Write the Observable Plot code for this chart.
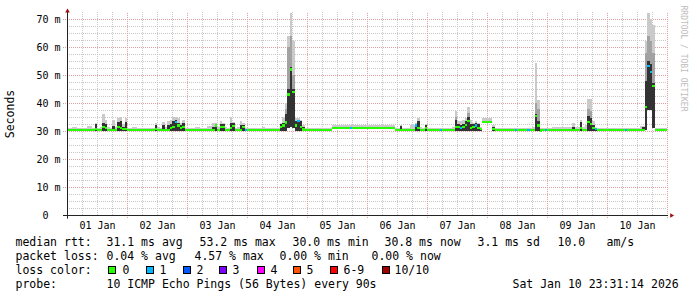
<!DOCTYPE html>
<html><head><meta charset="utf-8">
<script src="https://cdn.jsdelivr.net/npm/d3@7"></script>
<script src="https://cdn.jsdelivr.net/npm/@observablehq/plot@0.6"></script>
<style>
html,body{margin:0;padding:0;background:#fff;}
#wrap{position:relative;width:697px;height:297px;overflow:hidden;background:#fff;font-family:"DejaVu Sans Mono",monospace;}
#chart{position:absolute;left:0;top:0;}
.t{position:absolute;font-size:11.5px;line-height:14px;white-space:pre;color:#000;}
.box{position:absolute;width:8px;height:8px;box-sizing:border-box;border:1px solid #000;}
</style></head><body>
<div id="wrap"><div id="chart"></div></div>
<script>
// ---- data: hourly values (hour 0 = 01 Jan 00:00), milliseconds ----
const med = [
30.4,30.4,30.4,30.4,30.4,30.4,30.4,30.4,30.4,30.4,30.4,30.6,30.4,30.4,31.5,31.0,30.4,30.4,30.4,30.4,31.5,31.0,30.6,30.8,
30.4,30.4,30.4,30.4,30.4,30.4,30.4,30.4,30.4,30.4,30.4,30.8,30.4,30.4,30.4,30.4,30.4,31.0,31.5,33.2,32.0,31.0,31.5,30.4,
30.4,30.4,30.4,30.4,30.4,30.4,30.4,30.4,30.4,30.4,30.4,32.0,30.4,31.5,31.5,30.4,30.4,31.0,31.8,30.4,30.4,30.4,31.5,30.4,
30.4,30.4,30.4,30.4,30.4,30.4,30.4,30.4,30.4,30.4,30.4,30.4,30.4,31.5,32.0,33.0,43.0,52.0,44.0,32.0,33.5,31.5,30.5,30.4,
30.4,30.4,30.4,30.4,30.4,30.4,30.4,30.4,30.4,30.4,31.2,31.2,31.2,31.2,31.2,31.2,31.2,31.2,31.2,31.2,31.2,31.2,31.2,31.2,
31.2,31.2,31.2,31.2,31.2,31.2,31.2,31.2,31.2,31.2,31.2,30.4,30.4,30.4,30.4,30.4,30.4,30.4,30.4,32.0,31.0,30.4,30.4,31.2,
30.4,30.4,30.4,30.4,30.4,30.4,30.4,30.4,30.4,30.4,30.4,31.5,31.3,31.0,31.5,32.2,33.5,31.0,31.5,32.0,31.0,30.6,33.3,33.3,
33.3,33.3,30.6,30.4,30.4,30.4,30.4,30.4,30.4,30.4,30.4,30.4,30.4,30.4,30.4,30.4,30.4,30.4,30.4,35.4,32.0,30.2,30.4,30.3,
30.4,30.4,30.4,30.4,30.4,30.4,30.4,30.4,30.4,30.4,30.4,30.4,30.4,31.2,30.4,30.4,33.2,32.5,31.0,30.6,30.4,30.4,30.4,30.4,
30.4,30.4,30.4,30.4,30.4,30.4,30.4,30.4,30.4,30.4,30.4,30.4,30.4,30.4,30.4,38.7,53.2,51.0,46.0,30.4,30.4,30.4,30.4,30.4
];
const lo = [
30.1,30.1,30.1,30.1,30.1,30.1,30.1,30.1,30.1,30.1,30.1,30.1,30.1,30.1,30.1,30.1,30.1,30.1,30.1,30.1,30.1,30.1,30.1,30.1,
30.1,30.1,30.1,30.1,30.1,30.1,30.1,30.1,30.1,30.1,30.1,30.1,30.1,30.1,30.1,30.1,30.1,30.1,30.1,30.1,30.1,30.1,30.1,30.1,
30.1,30.1,30.1,30.1,30.1,30.1,30.1,30.1,30.1,30.1,30.1,30.1,30.1,30.1,30.1,30.1,30.1,30.1,30.1,30.1,30.1,30.1,30.1,30.1,
30.1,30.1,30.1,30.1,30.1,30.1,30.1,30.1,30.1,30.1,30.1,30.1,30.1,30.1,30.1,30.1,31.0,31.5,31.0,30.1,30.1,30.1,30.1,30.1,
30.1,30.1,30.1,30.1,30.1,30.1,30.1,30.1,30.1,30.1,30.8,30.8,30.8,30.8,30.8,30.8,30.8,30.8,30.8,30.8,30.8,30.8,30.8,30.8,
30.8,30.8,30.8,30.8,30.8,30.8,30.8,30.8,30.8,30.8,30.8,30.1,30.1,30.1,30.1,30.1,30.1,30.1,30.1,30.1,30.1,30.1,30.1,30.1,
30.1,30.1,30.1,30.1,30.1,30.1,30.1,30.1,30.1,30.1,30.1,30.1,30.1,30.1,30.1,30.1,30.1,30.1,30.1,30.1,30.1,30.1,33.0,33.0,
33.0,33.0,30.1,30.1,30.1,30.1,30.1,30.1,30.1,30.1,30.1,30.1,30.1,30.1,30.1,30.1,30.1,30.1,30.1,30.1,30.1,30.1,30.1,30.1,
30.1,30.1,30.1,30.1,30.1,30.1,30.1,30.1,30.1,30.1,30.1,30.1,30.1,30.1,30.1,30.1,30.1,30.1,30.1,30.1,30.1,30.1,30.1,30.1,
30.1,30.1,30.1,30.1,30.1,30.1,30.1,30.1,30.1,30.1,30.1,30.1,30.1,30.1,30.1,30.5,37.5,37.5,31.0,30.1,30.1,30.1,30.1,30.1
];
const dark = [
30.4,30.4,30.4,30.4,30.4,30.4,30.4,30.4,30.4,30.4,30.4,32.5,30.4,30.4,33.0,32.5,30.4,30.4,31.8,30.4,33.3,33.5,31.5,33.3,
30.4,30.4,30.4,30.4,30.4,30.4,30.4,30.4,30.4,30.4,30.4,32.0,30.4,30.4,32.0,30.4,32.0,32.5,33.5,33.8,33.0,32.0,32.8,30.4,
30.4,30.4,30.4,30.4,30.4,30.4,30.4,30.4,30.4,30.4,31.5,32.5,30.4,32.5,32.5,30.4,30.4,33.0,32.7,30.4,30.4,32.0,32.0,30.4,
30.4,30.4,30.4,30.4,30.4,30.4,30.4,30.4,30.4,30.4,30.4,30.4,30.4,32.5,33.0,36.0,45.0,53.0,45.0,33.5,34.0,33.5,31.5,30.4,
30.4,30.4,30.4,30.4,30.4,30.4,30.4,30.4,30.4,30.4,31.2,31.2,31.2,31.2,31.2,31.2,31.2,31.2,31.2,31.2,31.2,31.2,31.2,31.2,
31.2,31.2,31.2,31.2,31.2,31.2,31.2,31.2,31.2,31.2,31.2,30.4,30.4,31.7,30.4,30.4,30.4,30.4,30.4,32.5,33.5,30.4,30.4,32.0,
30.4,30.4,30.4,30.4,30.4,30.4,30.4,30.4,30.4,30.4,30.4,33.8,32.5,32.0,32.5,33.5,35.0,32.5,32.5,33.0,32.5,30.6,33.6,33.6,
33.6,33.6,31.5,30.4,30.4,30.4,30.4,30.4,30.4,30.4,30.4,30.4,30.4,30.4,30.4,30.4,30.4,30.4,30.4,36.0,33.5,30.4,30.4,30.4,
30.4,30.4,30.4,30.4,30.4,30.4,30.4,30.4,30.4,30.4,31.6,30.4,30.4,33.3,30.4,30.4,35.5,34.5,32.0,30.4,30.4,30.4,30.4,30.4,
30.4,30.4,30.4,30.4,30.4,30.4,30.4,30.4,30.4,30.4,30.4,30.4,30.4,30.4,31.5,48.0,55.0,54.0,47.0,30.4,30.4,30.4,30.4,30.4
];
const hi = [
30.9,30.9,31.5,31.5,30.9,30.9,30.9,30.9,31.7,31.7,30.9,33.0,31.2,31.5,36.0,34.0,31.5,30.9,34.0,31.5,34.5,35.0,32.5,34.5,
30.9,30.9,31.5,31.5,30.9,30.9,30.9,30.9,30.9,30.9,30.9,32.8,31.3,30.9,33.3,31.5,33.5,34.0,35.0,35.0,34.5,33.0,34.0,30.9,
30.9,30.9,30.9,31.5,31.5,30.9,30.9,30.9,31.7,31.7,33.0,33.0,31.5,33.5,33.0,31.5,30.9,35.0,33.3,30.9,31.5,33.5,33.0,30.9,
30.9,30.9,31.2,30.9,30.9,30.9,31.3,30.9,30.9,31.2,30.9,30.9,30.9,33.0,35.0,40.0,64.0,72.0,62.0,34.5,34.5,34.0,32.0,30.9,
30.9,30.9,30.9,30.9,30.9,30.9,30.9,30.9,30.9,30.9,32.3,32.3,32.3,32.3,32.3,32.3,32.3,32.3,32.3,32.3,32.3,32.3,32.3,32.3,
32.3,32.3,32.3,32.3,32.3,32.3,32.3,32.3,32.3,32.3,32.3,30.9,30.9,32.0,30.9,30.9,30.9,32.3,32.3,33.0,34.5,31.5,30.9,32.5,
30.9,30.9,30.9,30.9,30.9,30.9,31.2,31.2,31.2,31.2,31.5,37.0,33.5,33.5,34.0,34.5,38.7,34.0,33.0,33.5,33.0,31.5,34.5,34.5,
34.5,34.5,32.0,31.2,31.2,31.2,31.2,31.2,31.2,31.2,31.2,31.2,31.2,31.2,31.2,31.2,31.2,30.9,31.5,54.2,41.0,31.2,30.9,30.9,
30.9,30.9,31.5,31.5,31.5,31.5,31.5,31.5,31.5,31.5,33.0,31.5,31.5,34.0,31.5,32.0,41.5,41.5,33.5,30.9,30.9,30.9,30.9,30.9,
30.9,30.9,30.9,30.9,30.9,30.9,30.9,30.9,30.9,30.9,30.9,30.9,30.9,31.7,31.7,62.0,72.0,70.0,68.0,30.9,30.9,30.9,30.9,30.9
];
// medium-gray smoke band, only where it shows
const grayHour = [87, 88, 89, 90, 155, 160, 187, 188, 208, 209, 231, 232, 233, 234];
const grayTop  = [38, 60, 64, 50, 35, 36.5, 40, 38, 38, 37, 58, 64, 62, 58];
// hours whose median carries packet loss, and the lost pings
const lossHour  = [43, 71, 92, 113, 139, 149, 157, 163, 179, 184, 191, 211, 223, 232, 233];
const lossCount = [1, 1, 1, 1, 1, 1, 1, 1, 1, 1, 1, 1, 1, 1, 1];

const dayLabels = ["01 Jan","02 Jan","03 Jan","04 Jan","05 Jan","06 Jan","07 Jan","08 Jan","09 Jan","10 Jan"];
const yTicks = [0, 10, 20, 30, 40, 50, 60, 70];
const lossLabels = ["0","1","2","3","4","5","6-9","10/10"];
const lossColors = ["#26ff00","#00b8ff","#0059ff","#7e00ff","#ff00ff","#ff5500","#ff0000","#a10000"];
const rttStats  = ["31.1 ms avg","53.2 ms max","30.0 ms min","30.8 ms now","3.1 ms sd","10.0","am/s"];
const lossStats = ["0.04 % avg","4.57 % max","0.00 % min","0.00 % now"];
const probeText = "10 ICMP Echo Pings (56 Bytes) every 90s";
const stampText = "Sat Jan 10 23:31:14 2026";

// ---- build tables ----
const rows = med.map((m, i) => {
  const k = lossHour.indexOf(i);
  return {t: i, t2: i + 1, med: m, lo: lo[i], dark: dark[i], hi: hi[i], loss: k >= 0 ? lossCount[k] : 0};
});
const grayRows = grayHour.map((h, i) => ({t: h, t2: h + 1, lo: lo[h], top: grayTop[i]}));

const noons = dayLabels.map((_, i) => 12 + 24 * i);
const midnights = d3.range(24, 241, 24);
const minorX = d3.range(6, 240, 6).filter(h => h % 24 !== 0);
const minorY = d3.range(2.5, 70, 2.5).filter(v => v % 10 !== 0);

const font = "DejaVu Sans Mono";
const chart = Plot.plot({
  width: 697, height: 232,
  marginLeft: 67, marginRight: 30, marginTop: 12, marginBottom: 17,
  x: {domain: [0, 240], label: null},
  y: {domain: [0, 72.5], label: null},
  color: {type: "identity"},
  style: {fontFamily: font, fontSize: "10px", background: "#fff", color: "#000", overflow: "visible"},
  marks: [
    Plot.ruleY(minorY, {stroke: "#c8c8c8", strokeDasharray: "1,1"}),
    Plot.ruleX(minorX, {stroke: "#c8c8c8", strokeDasharray: "1,1"}),
    Plot.ruleY(yTicks.filter(v => v > 0), {x1: -1.6, x2: 240, stroke: "#df9f9f", strokeDasharray: "1,1"}),
    Plot.ruleX(midnights, {y1: -1.1, y2: 72.5, stroke: "#df9f9f", strokeDasharray: "1,1"}),
    Plot.rect(rows, {x1: "t", x2: "t2", y1: "lo", y2: "hi", fill: "#cacaca", shapeRendering: "crispEdges"}),
    Plot.rect(grayRows, {x1: "t", x2: "t2", y1: "lo", y2: "top", fill: "#a2a2a2", shapeRendering: "crispEdges"}),
    Plot.rect(rows, {x1: "t", x2: "t2", y1: "lo", y2: "dark", fill: "#333", shapeRendering: "crispEdges"}),
    Plot.rect(rows, {x1: "t", x2: "t2", y1: d => d.med - 0.4, y2: d => d.med + 0.4,
      fill: d => lossColors[d.loss], shapeRendering: "crispEdges"}),
    Plot.axisY({ticks: yTicks, tickSize: 0, tickPadding: 7, label: null, fontSize: 10,
      tickFormat: d => d === 0 ? "0\u00a0\u00a0" : d + " m"}),
    Plot.axisX({ticks: noons, tickSize: 0, tickPadding: 6.5, label: null, fontSize: 10,
      tickFormat: d => dayLabels[noons.indexOf(d)]}),
    Plot.ruleX([0], {y1: -1.3, y2: 72.5, stroke: "#222"}),
    Plot.ruleY([0], {x1: -1.6, x2: 240.4, stroke: "#222"}),
    Plot.dot([[241.6, 0]], {x: d => d[0], y: d => d[1], symbol: "triangle2", r: 2.2, fill: "#9c1010", stroke: "none", rotate: 90}),
    Plot.dot([[0, 73.0]], {x: d => d[0], y: d => d[1], symbol: "triangle2", r: 2.2, fill: "#9c1010", stroke: "none"}),
    Plot.text(["Seconds"], {frameAnchor: "left", rotate: -90, dx: -57, fontSize: 11.5, textAnchor: "middle", fill: "#000"}),
    Plot.text(["RRDTOOL / TOBI OETIKER"], {frameAnchor: "top-right", rotate: 90, dx: 19.5, dy: -7,
      textAnchor: "start", fontSize: 8, fill: "#bdbdbd"})
  ]
});
document.getElementById("chart").appendChild(chart);

// ---- legend lines below the SVG ----
const wrap = document.getElementById("wrap");
function txt(s, x, y) {
  const d = document.createElement("div");
  d.className = "t"; d.textContent = s;
  d.style.left = x + "px"; d.style.top = y + "px";
  wrap.appendChild(d);
}
const rttX = [106.5, 199.5, 292.5, 384.5, 477.5, 557.5, 606.5];
const lossX = [106.5, 194.5, 279.5, 371.5];
const boxX = [108, 146, 183, 219, 257, 293, 330, 382];
const boxLabelX = [122.5, 159.5, 196.5, 232.5, 270.5, 306.5, 343.5, 394.5];
txt("median rtt:", 15.5, 234.5);
rttStats.forEach((s, i) => txt(s, rttX[i], 234.5));
txt("packet loss:", 15.5, 248.5);
lossStats.forEach((s, i) => txt(s, lossX[i], 248.5));
txt("loss color:", 15.5, 262.5);
lossLabels.forEach((s, i) => {
  const b = document.createElement("div");
  b.className = "box"; b.style.left = boxX[i] + "px"; b.style.top = "266px";
  b.style.background = lossColors[i];
  wrap.appendChild(b);
  txt(s, boxLabelX[i], 262.5);
});
txt("probe:", 15.5, 277);
txt(probeText, 106.5, 277);
txt(stampText, 512.5, 277);
</script></body></html>
